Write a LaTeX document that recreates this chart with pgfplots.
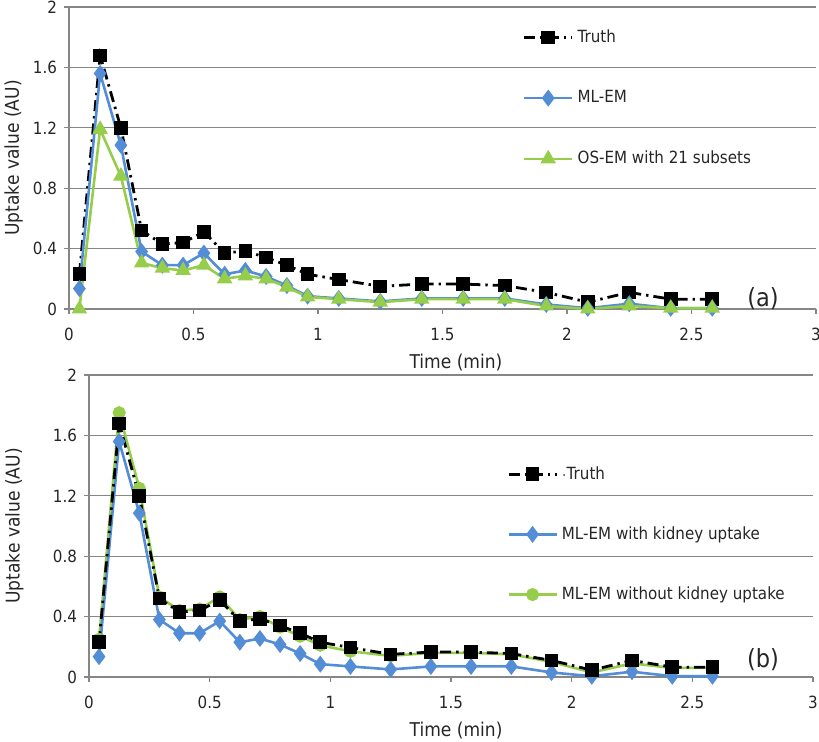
\documentclass[border=0pt]{standalone}
\usepackage{fontspec}
\setmainfont{DejaVu Sans}[FakeStretch=0.9]
\usepackage{pgfplots}
\usepackage{pgfplotstable}
\pgfplotsset{compat=1.18}
\definecolor{gridgray}{RGB}{134,134,134}
\definecolor{mlblue}{RGB}{83,141,213}
\definecolor{osgreen}{RGB}{150,205,75}

\pgfplotstableread{
t       truth  mlem   osem   nok
0.0417  0.23   0.135  0.0    0.25
0.125   1.68   1.56   1.19   1.75
0.2083  1.20   1.085  0.88   1.25
0.2917  0.52   0.38   0.305  0.53
0.375   0.43   0.29   0.27   0.44
0.4583  0.44   0.29   0.255  0.45
0.5417  0.51   0.37   0.29   0.53
0.625   0.37   0.23   0.20   0.38
0.7083  0.385  0.255  0.22   0.40
0.7917  0.34   0.215  0.20   0.33
0.875   0.29   0.155  0.145  0.27
0.9583  0.23   0.085  0.08   0.21
1.0833  0.195  0.07   0.065  0.17
1.25    0.15   0.05   0.045  0.14
1.4167  0.165  0.07   0.065  0.16
1.5833  0.165  0.07   0.065  0.16
1.75    0.155  0.07   0.065  0.15
1.9167  0.11   0.03   0.02   0.10
2.0833  0.045  0.005  0.0    0.03
2.25    0.11   0.035  0.02   0.09
2.4167  0.065  0.005  0.005  0.06
2.5833  0.065  0.005  0.005  0.06
}\data

\pgfplotsset{
  myaxis/.style={
    scale only axis, height=151pt,
    xmin=0, xmax=3, ymin=0, ymax=2,
    xtick={0,0.5,1,1.5,2,2.5,3}, xticklabels={0,0.5,1,1.5,2,2.5,3},
    ytick={0,0.4,0.8,1.2,1.6,2}, yticklabels={0,0.4,0.8,1.2,1.6,2},
    axis lines*=left,
    ymajorgrids, grid style={gridgray, line width=0.6pt},
    axis line style={gridgray, line width=0.6pt},
    tick style={gridgray, line width=0.6pt},
    tick align=outside, major tick length=2.5pt,
    clip=false,
    /pgf/number format/assume math mode=true,
    ticklabel style={font=\fontsize{8.4}{9}\selectfont, text=black!85},
    xticklabel style={yshift=-3.5pt},
    label style={font=\fontsize{9.5}{11}\selectfont, text=black!85},
    ylabel={Uptake value (AU)},
    xlabel={Time (min)},
    legend cell align=left,
    legend image code/.code={\draw[mark repeat=2,mark phase=2,##1] plot coordinates {(0pt,0pt) (12pt,0pt) (24pt,0pt)};},
    legend style={draw=none, fill=none, inner sep=0pt,
      font=\fontsize{8.4}{10}\selectfont, text=black!85},
  },
  truth/.style={black, line width=1.4pt, dash pattern=on 5.5pt off 2.5pt on 1.2pt off 2.5pt,
    mark=square*, mark size=2.7pt, mark options={solid}},
  mlem/.style={mlblue, line width=1.3pt, mark=diamond*, mark size=3.2pt, mark options={solid}},
  osem/.style={osgreen, line width=1.3pt, mark=triangle*, mark size=3.2pt, mark options={solid}},
  nok/.style={osgreen, line width=1.3pt, mark=*, mark size=2.6pt, mark options={solid}},
}

\begin{document}
\begin{tikzpicture}
\path[use as bounding box] (0,0) rectangle (409.5pt,371pt);
\begin{axis}[myaxis, at={(34.5pt,216.5pt)}, anchor=south west, width=373.5pt,
  ylabel style={at={(axis description cs:-0.074,0.5)}, anchor=center},
  xlabel style={at={(axis description cs:0.518,-0.176)}, anchor=center},
  legend style={at={(axis description cs:0.607,0.94)}, anchor=north west, row sep=18.6pt}]
\addplot[truth] table[x=t,y=truth]{\data};
\addlegendentry{Truth}
\addplot[mlem] table[x=t,y=mlem]{\data};
\addlegendentry{ML-EM}
\addplot[osem] table[x=t,y=osem]{\data};
\addlegendentry{OS-EM with 21 subsets}
\node[font=\fontsize{12.5}{14}\selectfont, text=black!85] at (rel axis cs:0.929,0.035) {(a)};
\end{axis}
\begin{axis}[myaxis, at={(44.5pt,32.5pt)}, anchor=south west, width=362pt,
  ylabel style={at={(axis description cs:-0.103,0.5)}, anchor=center},
  xlabel style={at={(axis description cs:0.507,-0.178)}, anchor=center},
  legend style={at={(axis description cs:0.577,0.712)}, anchor=north west, row sep=18.2pt}]
\addlegendimage{truth}
\addlegendentry{$\cdot$Truth}
\addlegendimage{mlem}
\addlegendentry{ML-EM with kidney uptake}
\addlegendimage{nok}
\addlegendentry{ML-EM without kidney uptake}
\addplot[nok, forget plot] table[x=t,y=nok]{\data};
\addplot[mlem, forget plot] table[x=t,y=mlem]{\data};
\addplot[truth, forget plot] table[x=t,y=truth]{\data};
\node[font=\fontsize{12.5}{14}\selectfont, text=black!85] at (rel axis cs:0.931,0.056) {(b)};
\end{axis}
\end{tikzpicture}
\end{document}
